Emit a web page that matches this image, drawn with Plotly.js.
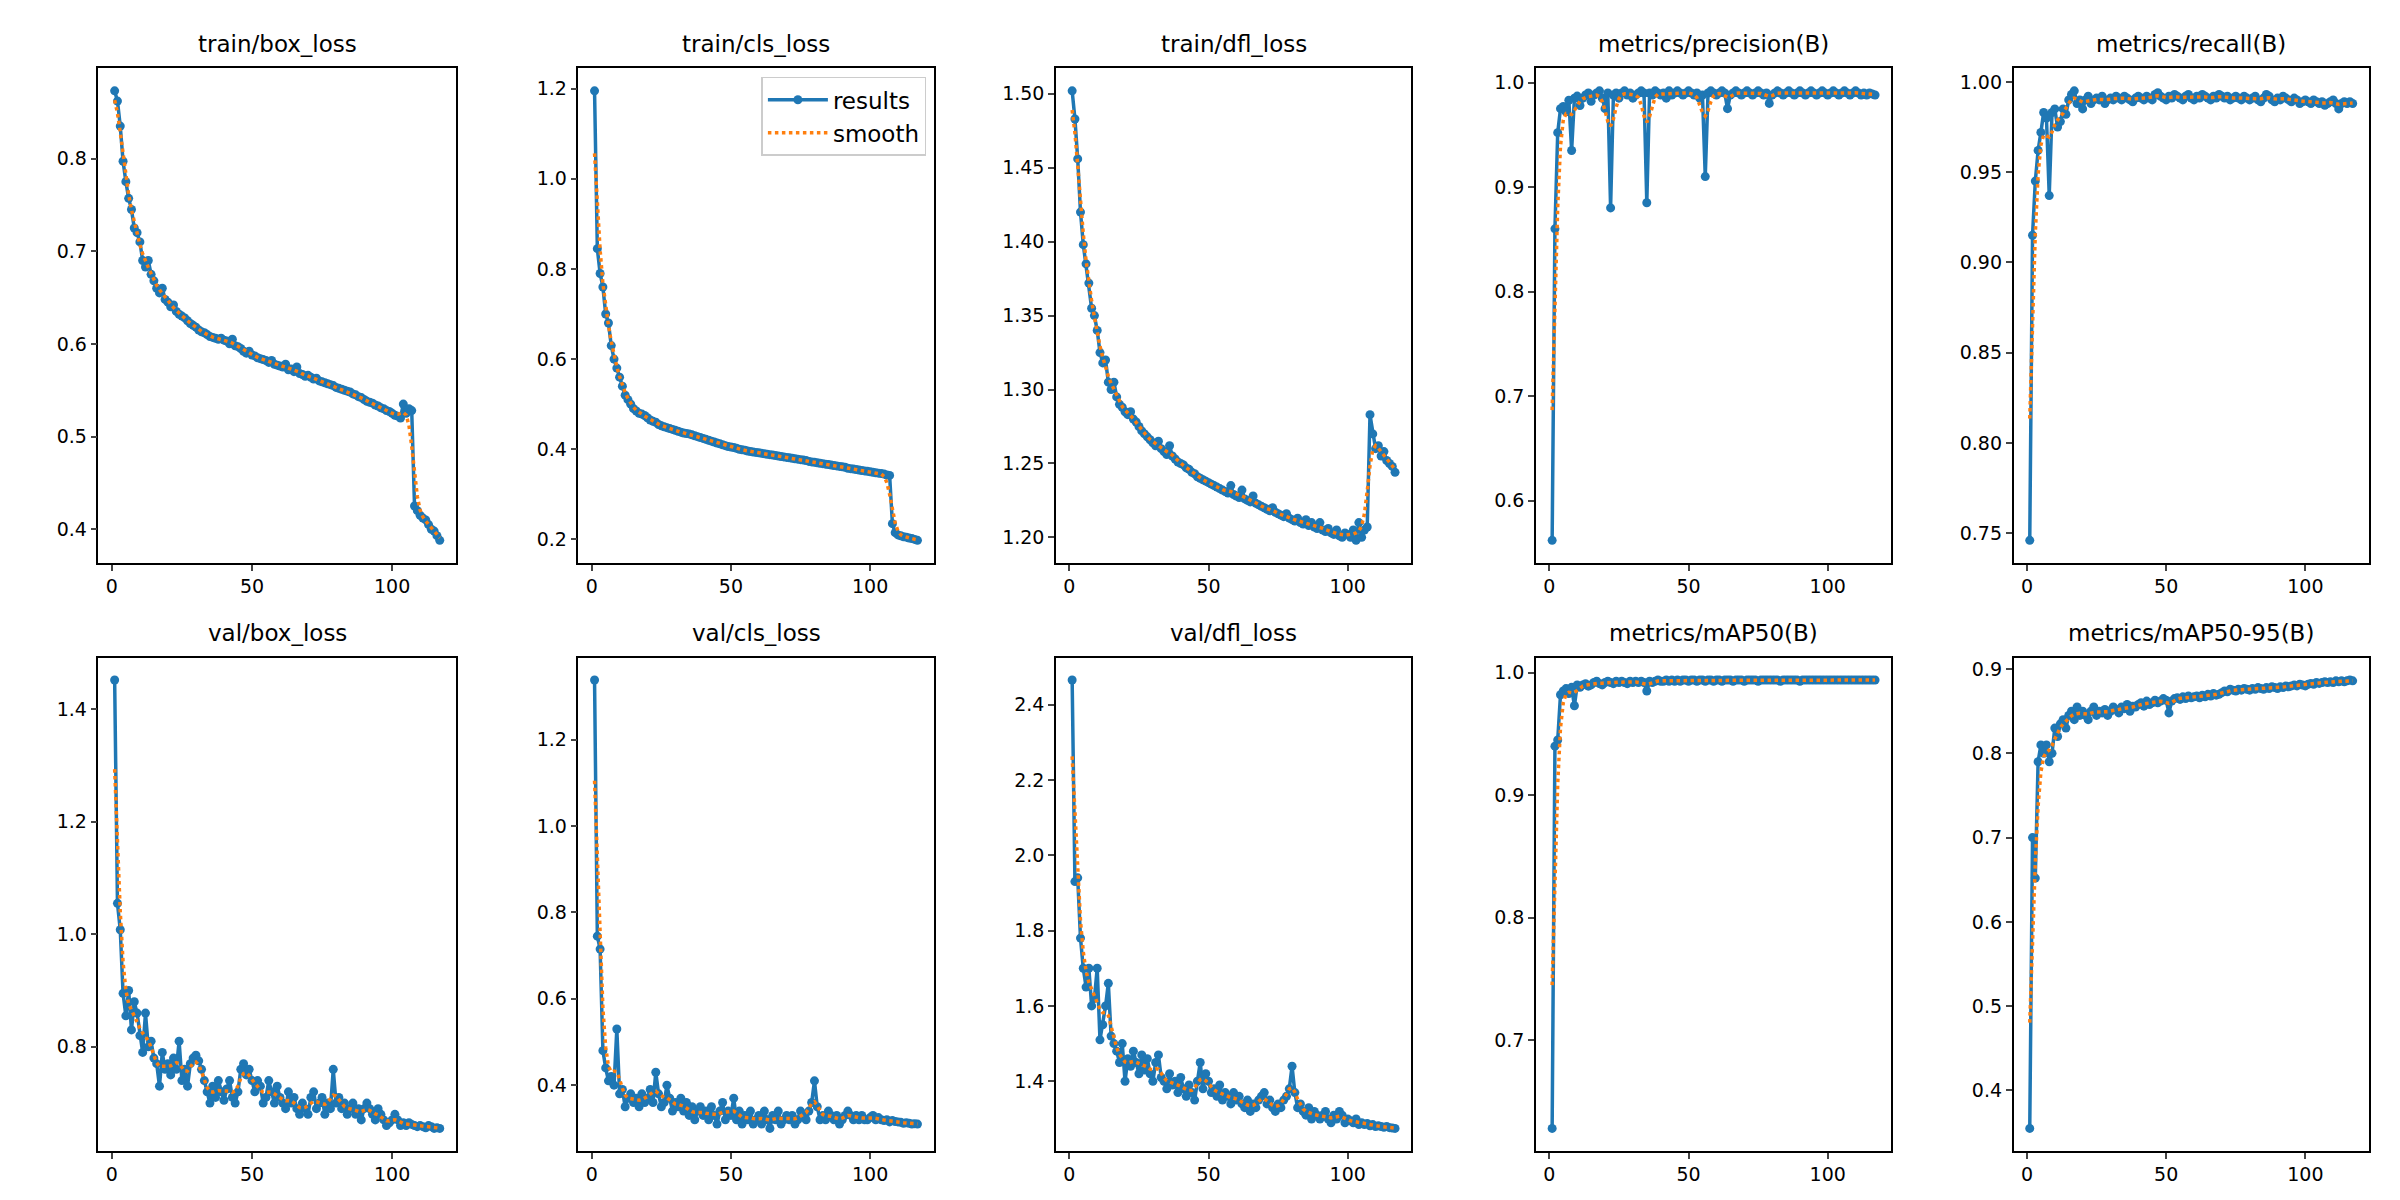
<!DOCTYPE html>
<html>
<head>
<meta charset="utf-8">
<script src="https://cdn.plot.ly/plotly-3.0.1.min.js"></script>
<style>body{margin:0;background:#fff}#graph{width:2400px;height:1200px}</style>
</head>
<body>
<div id="graph"></div>
<script>
/* ----- data (epoch 1..117) ----- */
var epochs = [];
for (var e = 1; e <= 117; e++) epochs.push(e);

var trainBox = [.873,.862,.835,.797,.775,.757,.745,.725,.720,.710,.690,.683,.690,.675,.668,.660,.655,.660,.648,.645,
.640,.642,.635,.632,.630,.628,.625,.622,.620,.618,.615,.613,.612,.610,.608,.607,.606,.605,.606,.604,
.603,.600,.605,.598,.597,.595,.592,.590,.592,.588,.587,.585,.584,.583,.582,.580,.582,.578,.577,.576,
.575,.578,.572,.573,.570,.575,.568,.567,.565,.566,.564,.562,.563,.560,.559,.558,.557,.556,.555,.553,
.552,.551,.550,.549,.548,.546,.545,.543,.542,.540,.538,.537,.536,.534,.533,.531,.530,.528,.527,.525,
.523,.522,.520,.535,.525,.530,.528,.425,.420,.415,.412,.410,.405,.400,.398,.393,.388];
var trainCls = [1.195,.845,.790,.760,.700,.680,.630,.600,.580,.560,.540,.520,.510,.500,.490,.485,.480,.478,.475,.470,
.465,.462,.460,.455,.452,.450,.448,.446,.444,.442,.440,.438,.436,.435,.434,.432,.430,.428,.426,.424,
.422,.420,.418,.416,.414,.412,.410,.408,.406,.405,.404,.402,.400,.399,.398,.396,.395,.394,.393,.392,
.391,.390,.389,.388,.387,.386,.385,.384,.383,.382,.381,.380,.379,.378,.377,.376,.375,.373,.372,.371,
.370,.369,.368,.367,.366,.365,.364,.363,.362,.361,.360,.358,.357,.356,.355,.354,.353,.352,.351,.350,
.349,.348,.347,.346,.345,.343,.342,.235,.215,.210,.208,.206,.205,.203,.202,.200,.198];
var trainDfl = [1.502,1.483,1.456,1.420,1.398,1.385,1.372,1.355,1.350,1.340,1.325,1.318,1.320,1.305,1.300,1.305,1.295,1.290,1.288,1.285,
1.283,1.285,1.280,1.278,1.275,1.272,1.270,1.268,1.266,1.264,1.262,1.265,1.260,1.258,1.256,1.262,1.255,1.253,1.251,1.250,
1.249,1.247,1.246,1.244,1.243,1.241,1.240,1.239,1.238,1.237,1.236,1.235,1.234,1.233,1.232,1.231,1.230,1.235,1.229,1.228,
1.227,1.232,1.226,1.225,1.224,1.228,1.223,1.222,1.221,1.220,1.219,1.218,1.220,1.217,1.216,1.215,1.214,1.216,1.213,1.212,
1.211,1.213,1.210,1.209,1.212,1.208,1.210,1.207,1.206,1.210,1.205,1.204,1.206,1.203,1.202,1.205,1.201,1.200,1.203,1.202,
1.200,1.205,1.198,1.210,1.200,1.205,1.207,1.283,1.270,1.260,1.262,1.255,1.258,1.252,1.250,1.248,1.244];
var precision = [.562,.860,.952,.975,.977,.972,.983,.935,.985,.987,.978,.985,.988,.990,.982,.988,.990,.992,.985,.975,
.990,.880,.988,.990,.985,.990,.992,.988,.990,.985,.988,.990,.992,.990,.885,.990,.988,.992,.990,.988,
.990,.985,.992,.988,.990,.992,.990,.988,.990,.992,.990,.988,.990,.985,.988,.910,.990,.992,.990,.988,
.990,.992,.990,.975,.988,.990,.992,.990,.988,.990,.992,.990,.988,.990,.992,.990,.988,.990,.980,.988,
.990,.992,.990,.988,.990,.992,.990,.988,.990,.992,.990,.988,.990,.992,.990,.988,.990,.992,.990,.988,
.990,.992,.990,.988,.990,.992,.990,.988,.990,.992,.990,.988,.990,.988,.990,.989,.988];
var recall = [.746,.915,.945,.962,.972,.983,.980,.937,.983,.985,.975,.978,.985,.982,.990,.993,.995,.988,.990,.985,
.990,.992,.988,.990,.991,.990,.992,.988,.990,.991,.990,.992,.991,.990,.992,.991,.990,.989,.991,.992,
.991,.990,.992,.991,.990,.993,.994,.992,.991,.990,.992,.991,.993,.992,.991,.990,.992,.993,.991,.990,
.992,.991,.993,.992,.991,.990,.992,.991,.993,.992,.991,.992,.990,.991,.992,.991,.990,.992,.991,.990,
.991,.992,.990,.989,.991,.993,.992,.990,.989,.991,.990,.992,.991,.990,.989,.991,.990,.988,.989,.990,
.989,.988,.990,.989,.988,.989,.987,.988,.989,.990,.988,.985,.988,.989,.988,.989,.988];
var map50 = [.628,.940,.945,.982,.985,.987,.983,.988,.973,.990,.988,.990,.991,.989,.990,.992,.993,.991,.990,.992,
.993,.992,.991,.993,.992,.993,.992,.991,.993,.992,.993,.992,.993,.992,.985,.993,.992,.993,.994,.993,
.993,.994,.993,.994,.993,.994,.993,.994,.994,.993,.994,.994,.993,.994,.994,.993,.994,.994,.993,.994,
.994,.993,.994,.994,.994,.993,.994,.994,.994,.993,.994,.994,.994,.994,.993,.994,.994,.994,.994,.994,
.994,.994,.993,.994,.994,.994,.994,.994,.994,.993,.994,.994,.994,.994,.994,.994,.994,.994,.994,.994,
.994,.994,.994,.994,.994,.994,.994,.994,.994,.994,.994,.994,.994,.994,.994,.994,.994];
var map5095 = [.355,.700,.652,.790,.810,.800,.810,.790,.800,.830,.820,.835,.840,.830,.845,.850,.840,.855,.845,.850,
.845,.840,.850,.855,.845,.850,.848,.852,.845,.850,.855,.852,.848,.855,.853,.858,.850,.856,.855,.858,
.860,.856,.862,.858,.860,.863,.860,.862,.865,.863,.848,.862,.865,.866,.864,.867,.865,.868,.866,.867,
.868,.866,.869,.867,.870,.868,.871,.869,.870,.872,.874,.873,.876,.875,.874,.876,.875,.877,.876,.875,
.877,.876,.878,.877,.876,.878,.877,.879,.878,.877,.879,.878,.880,.879,.880,.881,.880,.882,.881,.880,
.882,.883,.882,.884,.883,.884,.885,.884,.885,.884,.886,.885,.886,.885,.886,.887,.886];
var valBox = [1.452,1.055,1.008,.895,.855,.900,.830,.880,.860,.820,.790,.860,.800,.810,.780,.770,.730,.790,.760,.770,
.750,.780,.760,.810,.740,.760,.730,.770,.780,.785,.775,.760,.740,.720,.700,.730,.710,.740,.720,.705,
.725,.740,.710,.700,.720,.760,.770,.750,.760,.740,.720,.740,.730,.700,.710,.740,.720,.700,.730,.710,
.700,.690,.720,.700,.710,.690,.680,.700,.690,.680,.710,.720,.690,.700,.710,.680,.700,.690,.760,.700,
.710,.690,.700,.680,.690,.700,.680,.690,.670,.690,.700,.690,.680,.670,.690,.680,.670,.660,.665,.670,
.680,.670,.660,.665,.660,.665,.662,.660,.658,.660,.658,.656,.660,.658,.655,.656,.655];
var valCls = [1.338,.745,.715,.480,.440,.410,.420,.400,.530,.380,.390,.350,.370,.380,.360,.370,.350,.380,.360,.370,
.390,.360,.430,.380,.350,.360,.400,.370,.340,.360,.350,.370,.340,.360,.330,.350,.320,.340,.350,.330,
.340,.320,.350,.330,.310,.340,.360,.320,.340,.330,.370,.320,.340,.310,.330,.320,.340,.310,.320,.330,
.310,.340,.320,.300,.330,.320,.340,.310,.320,.330,.320,.330,.310,.320,.340,.330,.320,.340,.360,.410,
.350,.320,.330,.320,.340,.330,.320,.330,.310,.320,.330,.340,.330,.320,.330,.320,.330,.320,.320,.325,
.330,.320,.325,.320,.318,.320,.315,.318,.316,.315,.314,.312,.313,.312,.310,.311,.310];
var valDfl = [2.465,1.930,1.940,1.780,1.700,1.650,1.700,1.600,1.620,1.700,1.510,1.550,1.600,1.660,1.520,1.500,1.480,1.450,1.500,1.400,
1.460,1.440,1.480,1.450,1.420,1.470,1.430,1.460,1.420,1.400,1.450,1.470,1.410,1.400,1.380,1.420,1.390,1.400,1.370,1.410,
1.380,1.360,1.390,1.370,1.350,1.400,1.450,1.380,1.420,1.400,1.370,1.380,1.360,1.390,1.350,1.370,1.360,1.340,1.370,1.350,
1.360,1.340,1.330,1.350,1.320,1.340,1.330,1.350,1.360,1.370,1.340,1.350,1.330,1.320,1.340,1.330,1.350,1.360,1.380,1.440,
1.370,1.330,1.340,1.320,1.310,1.330,1.300,1.320,1.310,1.300,1.310,1.320,1.300,1.290,1.310,1.300,1.320,1.310,1.290,1.300,
1.295,1.290,1.300,1.285,1.290,1.285,1.288,1.282,1.285,1.280,1.282,1.280,1.278,1.280,1.277,1.276,1.275];

var titles = ['train/box_loss','train/cls_loss','train/dfl_loss','metrics/precision(B)','metrics/recall(B)',
              'val/box_loss','val/cls_loss','val/dfl_loss','metrics/mAP50(B)','metrics/mAP50-95(B)'];
var series = [trainBox, trainCls, trainDfl, precision, recall, valBox, valCls, valDfl, map50, map5095];
var yTicks = [0.1, 0.2, 0.05, 0.1, 0.05, 0.2, 0.2, 0.2, 0.1, 0.1];
var yFormats = ['.1f','.1f','.2f','.1f','.2f','.1f','.1f','.1f','.1f','.1f'];

/* gaussian smoothing of the results, narrow window */
function smooth(y) {
    var out = [], s = 1.5;
    for (var i = 0; i < y.length; i++) {
        var sum = 0, w = 0;
        for (var k = -5; k <= 5; k++) {
            var j = Math.min(Math.max(i + k, 0), y.length - 1);
            var g = Math.exp(-k * k / (2 * s * s));
            sum += g * y[j]; w += g;
        }
        out.push(sum / w);
    }
    return out;
}

var xDom = [[0.041,0.190],[0.241,0.389],[0.440,0.588],[0.640,0.788],[0.839,0.987]];
var yDom = [[0.531,0.943],[0.041,0.452]];
var font = {family: 'DejaVu Sans', size: 19, color: '#000'};

var data = [], annotations = [];
var layout = {
    width: 2400, height: 1200, showlegend: true,
    margin: {l: 0, r: 0, t: 0, b: 0},
    paper_bgcolor: '#fff', plot_bgcolor: '#fff', font: font,
    legend: {x: 0.386, y: 0.936, xanchor: 'right', yanchor: 'top', bordercolor: '#ccc', borderwidth: 1.5,
             itemwidth: 60, tracegroupgap: 6,
             font: {family: 'DejaVu Sans', size: 23}, bgcolor: 'rgba(255,255,255,0.8)'}
};

for (var i = 0; i < 10; i++) {
    var n = i + 1, ax = n === 1 ? '' : n;
    var y = series[i];
    data.push({x: epochs, y: y, xaxis: 'x' + ax, yaxis: 'y' + ax, mode: 'lines+markers', name: 'results',
        showlegend: i === 1, line: {color: '#1f77b4', width: 3.5}, marker: {color: '#1f77b4', size: 9}});
    data.push({x: epochs, y: smooth(y), xaxis: 'x' + ax, yaxis: 'y' + ax, mode: 'lines', name: 'smooth',
        showlegend: i === 1, line: {color: '#ff7f0e', width: 3.5, dash: 'dot'}});
    var mn = Math.min.apply(null, y), mx = Math.max.apply(null, y), pad = (mx - mn) * 0.05;
    var common = {showgrid: false, zeroline: false, showline: true, mirror: true, linecolor: '#000', linewidth: 1.5,
        ticks: 'outside', ticklen: 6, tickwidth: 1.5, tickfont: font};
    layout['xaxis' + ax] = Object.assign({}, common, {domain: xDom[i % 5], anchor: 'y' + ax,
        range: [-4.8, 122.8], tickvals: [0, 50, 100]});
    layout['yaxis' + ax] = Object.assign({}, common, {domain: yDom[Math.floor(i / 5)], anchor: 'x' + ax,
        range: [mn - pad, mx + pad], dtick: yTicks[i], tickformat: yFormats[i]});
    annotations.push({text: titles[i], xref: 'paper', yref: 'paper', showarrow: false,
        x: (xDom[i % 5][0] + xDom[i % 5][1]) / 2, y: yDom[Math.floor(i / 5)][1] + 0.008,
        xanchor: 'center', yanchor: 'bottom', font: {family: 'DejaVu Sans', size: 23, color: '#000'}});
}
layout.annotations = annotations;

Plotly.newPlot(document.getElementById('graph'), data, layout, {displayModeBar: false});
</script>
</body>
</html>
